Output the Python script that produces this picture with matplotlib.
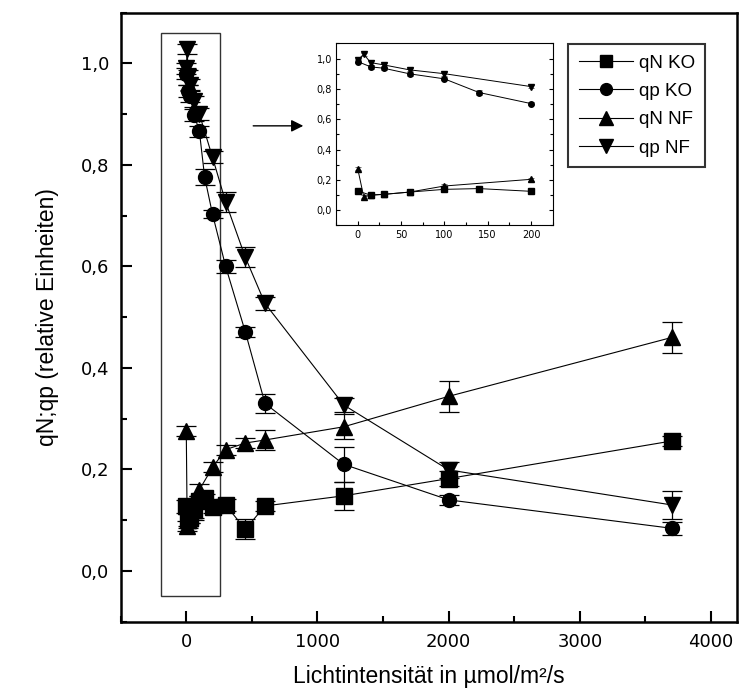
import numpy as np
import matplotlib.pyplot as plt
from matplotlib.patches import Rectangle
from matplotlib.ticker import MultipleLocator, FuncFormatter

# Daten
x_ko = [0, 15, 30, 60, 100, 140, 200, 300, 450, 600, 1200, 2000, 3700]
qN_ko = [0.127, 0.10, 0.105, 0.12, 0.138, 0.143, 0.125, 0.13, 0.082, 0.128, 0.148, 0.182, 0.256]
qN_ko_err = [0.012, 0.015, 0.01, 0.015, 0.01, 0.008, 0.01, 0.012, 0.02, 0.01, 0.027, 0.015, 0.01]
qp_ko = [0.98, 0.945, 0.936, 0.899, 0.866, 0.776, 0.703, 0.60, 0.471, 0.33, 0.21, 0.14, 0.084]
qp_ko_err = [0.01, 0.012, 0.012, 0.012, 0.01, 0.015, 0.008, 0.012, 0.01, 0.019, 0.035, 0.01, 0.013]

x_nf = [0, 7, 15, 30, 60, 100, 200, 300, 450, 600, 1200, 2000, 3700]
qN_nf = [0.275, 0.088, 0.10, 0.105, 0.12, 0.16, 0.204, 0.239, 0.252, 0.258, 0.284, 0.344, 0.46]
qN_nf_err = [0.01, 0.01, 0.012, 0.01, 0.02, 0.012, 0.01, 0.01, 0.01, 0.02, 0.025, 0.03, 0.03]
qp_nf = [0.99, 1.028, 0.973, 0.958, 0.925, 0.90, 0.815, 0.727, 0.618, 0.527, 0.327, 0.199, 0.13]
qp_nf_err = [0.01, 0.01, 0.015, 0.012, 0.01, 0.012, 0.012, 0.02, 0.02, 0.012, 0.014, 0.015, 0.028]

labels = ['qN KO', 'qp KO', 'qN NF', 'qp NF']
markers = ['s', 'o', '^', 'v']
msizes = [11, 10, 12, 12]

series = [(x_ko, qN_ko, qN_ko_err), (x_ko, qp_ko, qp_ko_err),
          (x_nf, qN_nf, qN_nf_err), (x_nf, qp_nf, qp_nf_err)]

comma = FuncFormatter(lambda v, p: ('%.1f' % v).replace('.', ','))

plt.rcParams['font.family'] = ['Liberation Sans', 'DejaVu Sans']

fig = plt.figure(figsize=(7.39, 7.0), dpi=100)
ax = fig.add_axes([0.1633, 0.1119, 0.8344, 0.87])

handles = []
for (x, y, e), lab, m, ms in zip(series, labels, markers, msizes):
    ax.errorbar(x, y, yerr=e, fmt='none', ecolor='black', elinewidth=0.9,
                capsize=7.5, capthick=0.9, zorder=2)
    h, = ax.plot(x, y, color='black', lw=0.8, marker=m, ms=ms,
                 markerfacecolor='black', markeredgecolor='black', label=lab, zorder=3)
    handles.append(h)

ax.set_xlim(-500, 4200)
ax.set_ylim(-0.1, 1.1)
ax.xaxis.set_major_locator(MultipleLocator(1000))
ax.xaxis.set_minor_locator(MultipleLocator(500))
ax.yaxis.set_major_locator(MultipleLocator(0.2))
ax.yaxis.set_minor_locator(MultipleLocator(0.1))
ax.yaxis.set_major_formatter(comma)
ax.tick_params(which='major', direction='in', length=8, width=1.5, labelsize=13, pad=8)
ax.tick_params(which='minor', direction='in', length=4.5, width=1.5)
for lbl in ax.get_xticklabels() + ax.get_yticklabels():
    lbl.set_family('DejaVu Sans')
for s in ax.spines.values():
    s.set_linewidth(1.8)

ax.set_xlabel('Lichtintensität in µmol/m²/s', fontsize=16.5, labelpad=10)
ax.set_ylabel('qN;qp (relative Einheiten)', fontsize=16.5, labelpad=16)

ax.add_patch(Rectangle((-190, -0.05), 450, 1.11, fill=False, edgecolor='#333333', lw=1.0, zorder=1))
ax.annotate('', xy=(913, 0.877), xytext=(489, 0.877),
            arrowprops=dict(arrowstyle='-|>', color='black', lw=1.0, mutation_scale=18))

leg = ax.legend(handles=handles, loc='upper left', bbox_to_anchor=(0.769, 0.937),
                bbox_transform=fig.transFigure, fontsize=13.5, handlelength=2.9,
                handletextpad=0.3, labelspacing=0.6, borderpad=0.55, borderaxespad=0,
                frameon=True, fancybox=False, edgecolor='black', numpoints=1,
                markerscale=0.85)
leg.get_frame().set_linewidth(1.5)

# Inset
ins = fig.add_axes([0.4547, 0.6779, 0.2932, 0.2602])
for (x, y, e), m in zip(series, markers):
    xs = [v for v in x if v <= 200]
    n = len(xs)
    ins.errorbar(xs, y[:n], yerr=e[:n], fmt='none', ecolor='#555555', elinewidth=0.6,
                 capsize=2, capthick=0.6, zorder=2)
    ins.plot(xs, y[:n], color='black', lw=0.7, marker=m, ms=4, zorder=3)
ins.set_xlim(-25, 225)
ins.set_ylim(-0.1, 1.1)
ins.xaxis.set_major_locator(MultipleLocator(50))
ins.xaxis.set_minor_locator(MultipleLocator(25))
ins.yaxis.set_major_locator(MultipleLocator(0.2))
ins.yaxis.set_minor_locator(MultipleLocator(0.1))
ins.yaxis.set_major_formatter(comma)
ins.tick_params(which='both', direction='in', right=True, width=0.8, labelsize=7, pad=3)
ins.tick_params(which='major', length=3)
ins.tick_params(which='minor', length=2)
for lbl in ins.get_xticklabels() + ins.get_yticklabels():
    lbl.set_family('DejaVu Sans')
for s in ins.spines.values():
    s.set_linewidth(0.8)

fig.savefig('out.png', dpi=100)
